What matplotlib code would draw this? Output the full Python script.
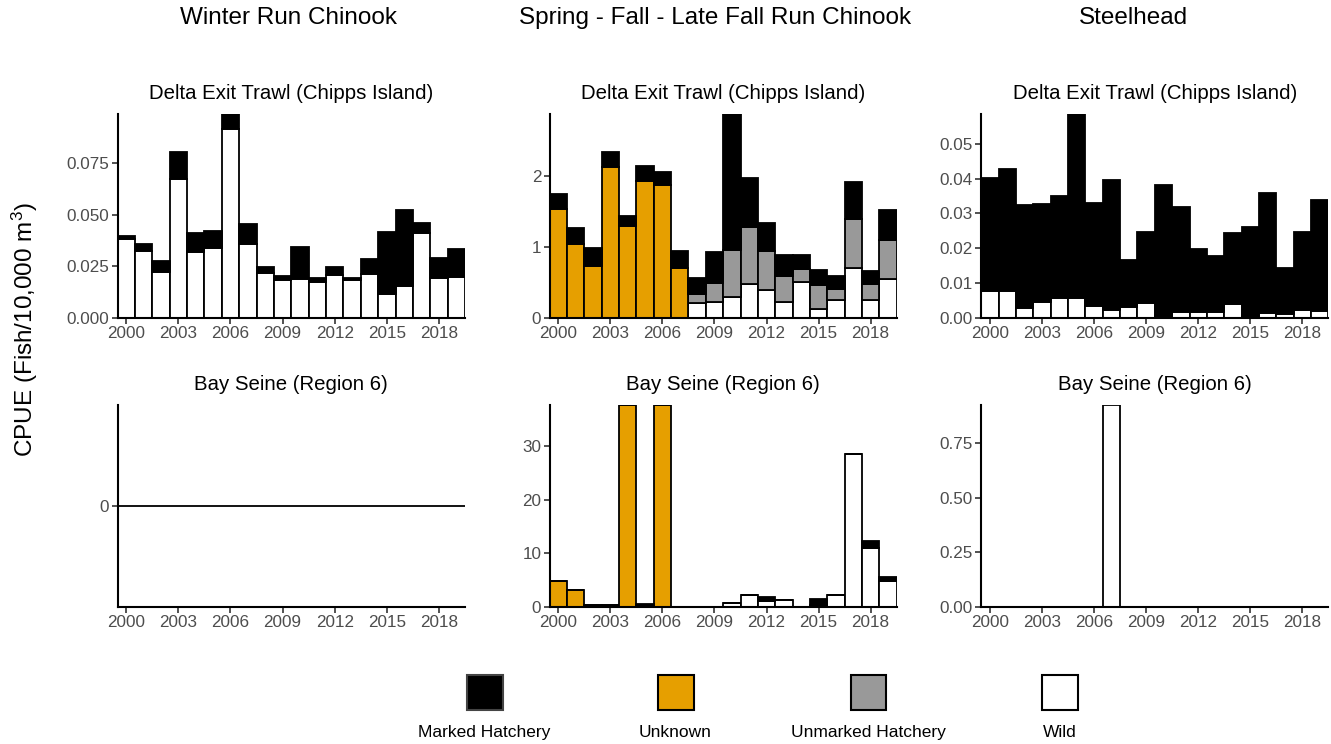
import matplotlib
matplotlib.use('Agg')
import matplotlib.pyplot as plt
import numpy as np
from matplotlib.patches import Rectangle

plt.rcParams['font.family'] = ['Liberation Sans', 'DejaVu Sans']
plt.rcParams['mathtext.fontset'] = 'custom'
plt.rcParams['mathtext.rm'] = 'Liberation Sans'
plt.rcParams['mathtext.it'] = 'Liberation Sans'

years = np.arange(2000, 2020)

# Winter Run Chinook - Delta Exit Trawl
winter_trawl_wild = [0.0383, 0.0324, 0.0225, 0.0676, 0.0322, 0.0341, 0.0917, 0.0361, 0.0218, 0.0186,
                     0.0189, 0.0175, 0.0210, 0.0186, 0.0212, 0.0116, 0.0155, 0.0414, 0.0193, 0.0201]
winter_trawl_marked = [0.0017, 0.0035, 0.0050, 0.0131, 0.0089, 0.0081, 0.0073, 0.0095, 0.0030, 0.0019,
                       0.0156, 0.0018, 0.0038, 0.0007, 0.0073, 0.0301, 0.0368, 0.0049, 0.0098, 0.0134]

# Spring - Fall - Late Fall - Delta Exit Trawl
spring_trawl_wild = [0, 0, 0, 0, 0, 0, 0, 0, 0.216, 0.225,
                     0.291, 0.474, 0.394, 0.230, 0.507, 0.131, 0.249, 0.700, 0.249, 0.554]
spring_trawl_unmarked = [0, 0, 0, 0, 0, 0, 0, 0, 0.122, 0.273,
                         0.667, 0.803, 0.545, 0.366, 0.178, 0.334, 0.164, 0.694, 0.225, 0.549]
spring_trawl_unknown = [1.535, 1.047, 0.732, 2.122, 1.291, 1.934, 1.878, 0.704, 0, 0,
                        0, 0, 0, 0, 0, 0, 0, 0, 0, 0]
spring_trawl_marked = [0.211, 0.221, 0.249, 0.221, 0.141, 0.202, 0.178, 0.240, 0.225, 0.436,
                       1.915, 0.695, 0.399, 0.291, 0.202, 0.206, 0.174, 0.521, 0.188, 0.423]

# Steelhead - Delta Exit Trawl
steel_trawl_wild = [0.0078, 0.0078, 0.0028, 0.0047, 0.0057, 0.0057, 0.0035, 0.0023, 0.0032, 0.0044,
                    0.0007, 0.0018, 0.0018, 0.0018, 0.0039, 0.0006, 0.0015, 0.0011, 0.0023, 0.0019]
steel_trawl_marked = [0.0324, 0.0348, 0.0297, 0.0280, 0.0293, 0.0528, 0.0294, 0.0372, 0.0133, 0.0204,
                      0.0374, 0.0300, 0.0181, 0.0160, 0.0206, 0.0255, 0.0343, 0.0132, 0.0225, 0.0319]

# Winter Run Chinook - Bay Seine (all zero)
winter_seine_wild = [0] * 20

# Spring - Fall - Late Fall - Bay Seine
spring_seine_wild = [0, 0, 0, 0, 0, 0, 0, 0, 0, 0,
                     0.74, 2.17, 1.06, 1.36, 0, 0.40, 2.17, 28.5, 11.0, 4.9]
spring_seine_unknown = [4.77, 3.2, 0.3, 0.3, 37.6, 0.45, 37.6, 0, 0, 0,
                        0, 0, 0, 0, 0, 0, 0, 0, 0, 0]
spring_seine_marked = [0, 0, 0, 0, 0, 0.15, 0, 0, 0, 0,
                       0, 0, 0.8, 0, 0, 1.1, 0, 0, 1.2, 0.7]

# Steelhead - Bay Seine
steel_seine_wild = [0, 0, 0, 0, 0, 0, 0, 0.924, 0, 0,
                    0, 0, 0, 0, 0, 0, 0, 0, 0, 0]

categories = ['Marked Hatchery', 'Unknown', 'Unmarked Hatchery', 'Wild']
colors = {'Marked Hatchery': '#000000', 'Unknown': '#E69F00',
          'Unmarked Hatchery': '#999999', 'Wild': '#FFFFFF'}

W, H = 1331, 744
fig = plt.figure(figsize=(W / 100, H / 100), dpi=100)


def px_axes(left, top, right, bottom):
    return fig.add_axes([left / W, 1 - bottom / H, (right - left) / W, (bottom - top) / H])


def draw_panel(ax, stacks, title, ticks, fmt):
    zero = [0] * 20
    bottom = np.zeros(20)
    # stacking from the bottom: Wild, Unmarked, Unknown, Marked
    for name in ['Wild', 'Unmarked Hatchery', 'Unknown', 'Marked Hatchery']:
        vals = np.array(stacks.get(name, zero), dtype=float)
        if name in stacks:
            ax.bar(years, vals, bottom=bottom, width=1.0, color=colors[name],
                   edgecolor='black', linewidth=1.3)
        bottom = bottom + vals
    top = bottom.max()
    ax.set_xlim(1999.5, 2019.5)
    if top > 0:
        ax.set_ylim(0, top)
    else:
        ax.set_ylim(-0.05, 0.05)
    ax.set_yticks(ticks)
    ax.set_yticklabels([fmt % t for t in ticks])
    ax.set_xticks(np.arange(2000, 2020, 3))
    for s in ['top', 'right']:
        ax.spines[s].set_visible(False)
    for s in ['left', 'bottom']:
        ax.spines[s].set_linewidth(1.5)
        ax.spines[s].set_color('black')
    ax.tick_params(length=4, width=1.2, color='#333333', labelcolor='#4D4D4D',
                   labelsize=12.3, pad=2)
    ax.set_title(title, fontsize=14.7, pad=10.5)


cols = [(117.5, 465), (549.6, 896.7), (981.3, 1328.4)]
rows = [(114, 318), (405, 607)]

ax1 = px_axes(cols[0][0], rows[0][0], cols[0][1], rows[0][1])
draw_panel(ax1, {'Wild': winter_trawl_wild, 'Marked Hatchery': winter_trawl_marked},
           'Delta Exit Trawl (Chipps Island)', [0, 0.025, 0.05, 0.075], '%.3f')

ax2 = px_axes(cols[1][0], rows[0][0], cols[1][1], rows[0][1])
draw_panel(ax2, {'Wild': spring_trawl_wild, 'Unmarked Hatchery': spring_trawl_unmarked,
                 'Unknown': spring_trawl_unknown, 'Marked Hatchery': spring_trawl_marked},
           'Delta Exit Trawl (Chipps Island)', [0, 1, 2], '%d')

ax3 = px_axes(cols[2][0], rows[0][0], cols[2][1], rows[0][1])
draw_panel(ax3, {'Wild': steel_trawl_wild, 'Marked Hatchery': steel_trawl_marked},
           'Delta Exit Trawl (Chipps Island)', [0, 0.01, 0.02, 0.03, 0.04, 0.05], '%.2f')

ax4 = px_axes(cols[0][0], rows[1][0], cols[0][1], rows[1][1])
draw_panel(ax4, {'Wild': winter_seine_wild}, 'Bay Seine (Region 6)', [0], '%d')

ax5 = px_axes(cols[1][0], rows[1][0], cols[1][1], rows[1][1])
draw_panel(ax5, {'Wild': spring_seine_wild, 'Unknown': spring_seine_unknown,
                 'Marked Hatchery': spring_seine_marked},
           'Bay Seine (Region 6)', [0, 10, 20, 30], '%d')

ax6 = px_axes(cols[2][0], rows[1][0], cols[2][1], rows[1][1])
draw_panel(ax6, {'Wild': steel_seine_wild}, 'Bay Seine (Region 6)',
           [0, 0.25, 0.5, 0.75], '%.2f')

# column titles
fig.text(288 / W, 1 - 18 / H, 'Winter Run Chinook', ha='center', va='center', fontsize=17.5)
fig.text(715 / W, 1 - 18 / H, 'Spring - Fall - Late Fall Run Chinook', ha='center', va='center',
         fontsize=17.5)
fig.text(1133 / W, 1 - 18 / H, 'Steelhead', ha='center', va='center', fontsize=17.5)

fig.text(25 / W, 1 - 330 / H, 'CPUE (Fish/10,000 m$^{3}$)', rotation=90, ha='center',
         va='center', fontsize=17.5)

# legend (keys above labels)
key_x = [484.5, 675.5, 868.5, 1059.5]
for cx, name in zip(key_x, categories):
    ec = '#444444' if name == 'Marked Hatchery' else 'black'
    fig.patches.append(Rectangle(((cx - 18) / W, 1 - 710 / H), 36 / W, 35 / H,
                                 transform=fig.transFigure, facecolor=colors[name],
                                 edgecolor=ec, linewidth=1.5))
    fig.text(cx / W, 1 - 737 / H, name, ha='center', va='baseline', fontsize=12.5)

fig.savefig('out.png', dpi=100)
